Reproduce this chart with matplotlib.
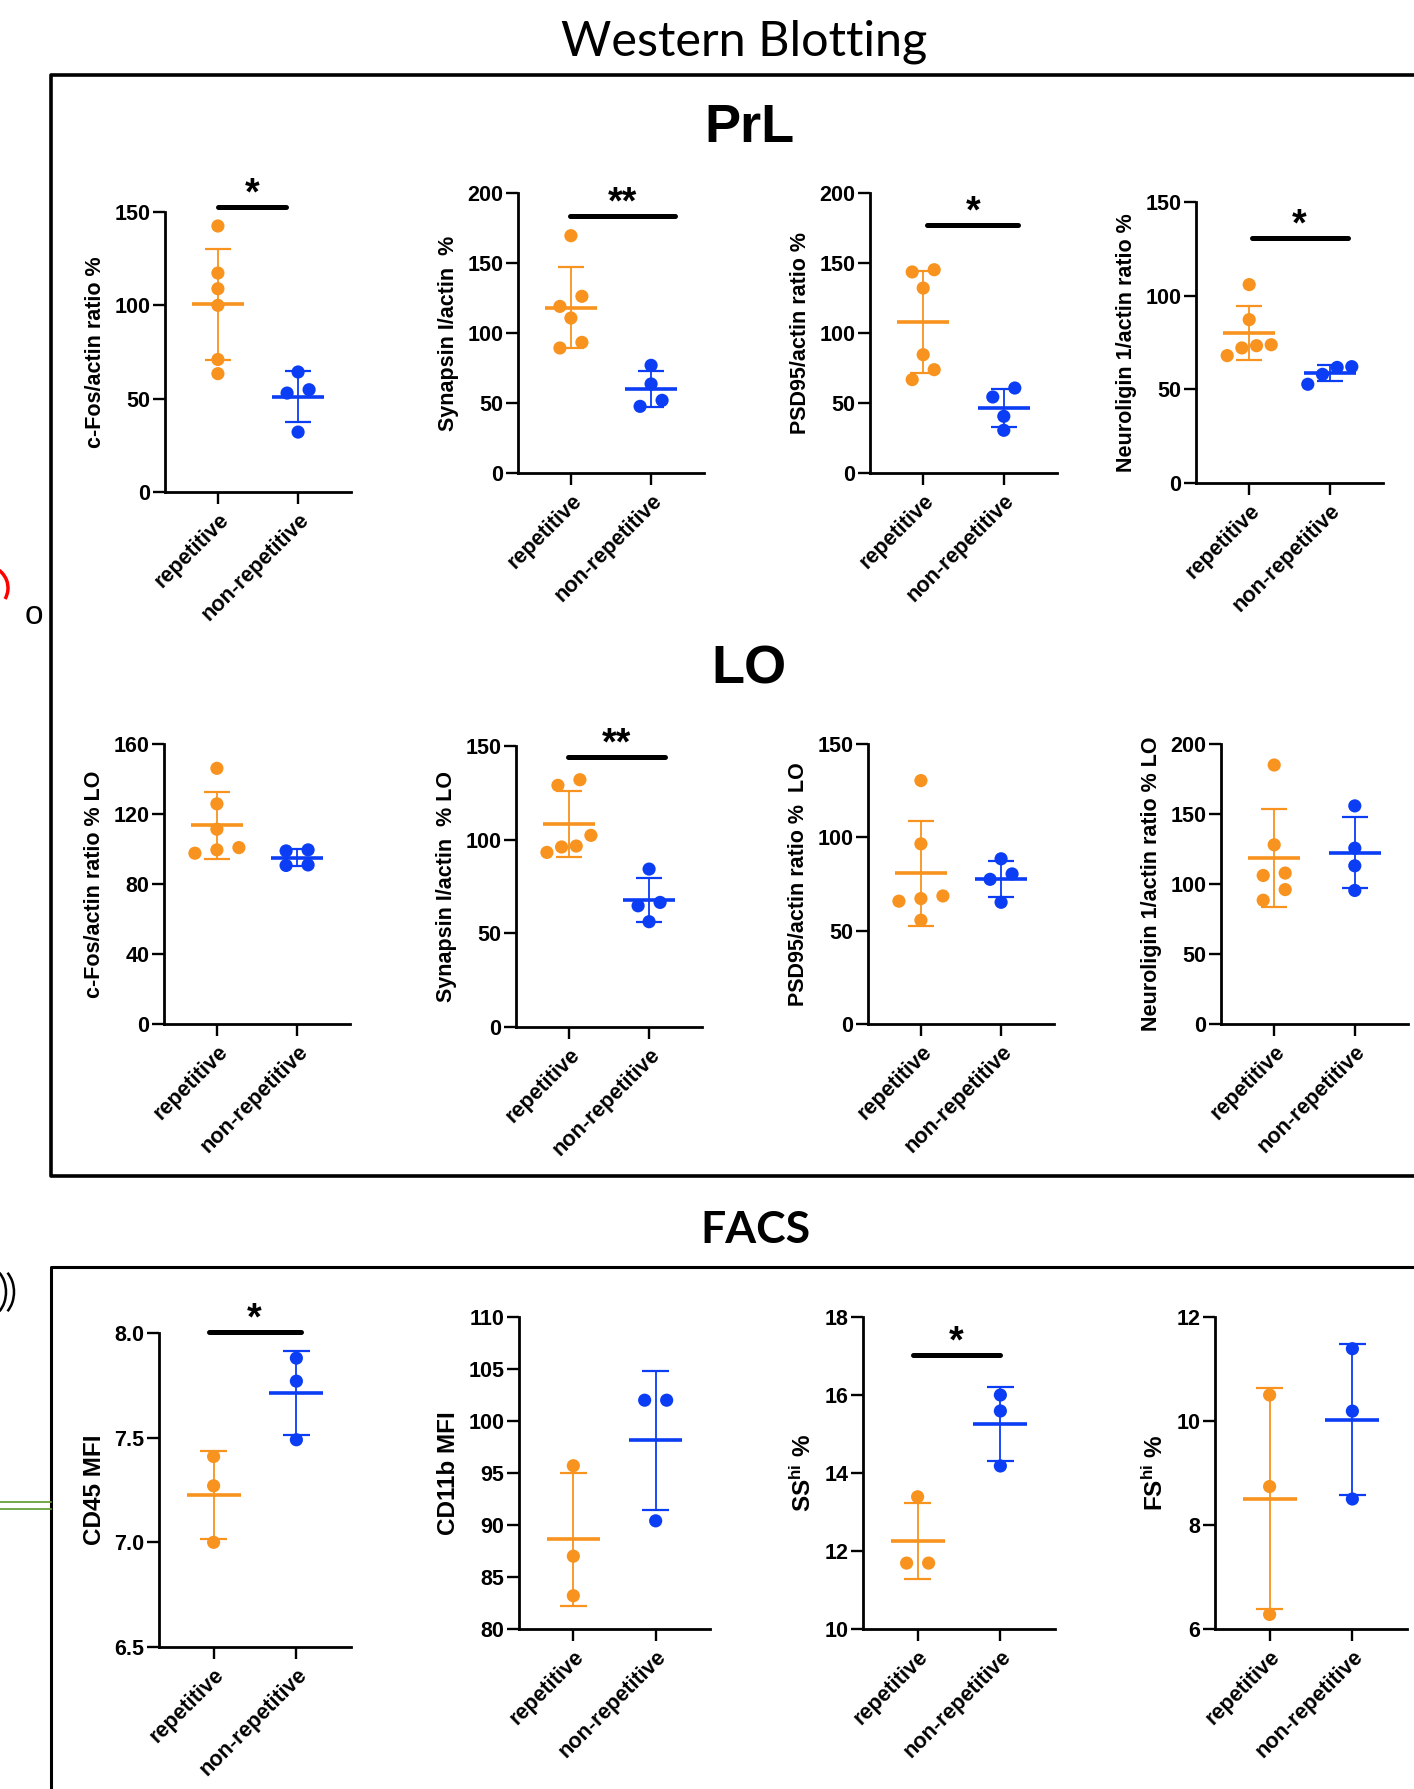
import numpy as np
import matplotlib
matplotlib.use('Agg')
import matplotlib.pyplot as plt
from matplotlib.patches import Arc

W, H = 1414, 1789
ORANGE = '#F7931E'
BLUE = '#0B3DF5'

groups = ['repetitive', 'non-repetitive']

# PrL western blot (% of actin)
prl_cfos_rep = [142.5, 117.3, 108.9, 100.0, 71.0, 63.4]
prl_cfos_non = [64.3, 54.8, 53.0, 32.1]
prl_syn_rep = [169.5, 126.2, 119.0, 110.7, 93.3, 89.3]
prl_syn_non = [76.9, 63.6, 51.9, 47.6]
prl_psd_rep = [145.2, 143.6, 132.1, 84.5, 73.8, 66.7]
prl_psd_non = [60.7, 54.3, 40.5, 30.5]
prl_nlg_rep = [105.9, 87.2, 73.8, 73.3, 72.1, 68.0]
prl_nlg_non = [62.1, 61.7, 58.0, 52.7]

# LO western blot
lo_cfos_rep = [146.1, 125.8, 111.3, 100.8, 99.5, 97.6]
lo_cfos_non = [99.5, 98.9, 90.9, 90.6]
lo_syn_rep = [132.0, 129.0, 102.3, 96.6, 96.1, 93.2]
lo_syn_non = [84.3, 66.5, 64.7, 56.2]
lo_psd_rep = [130.4, 96.5, 68.6, 67.2, 65.8, 55.6]
lo_psd_non = [88.5, 80.4, 77.5, 65.2]
lo_nlg_rep = [185.0, 128.0, 107.8, 106.1, 96.0, 88.4]
lo_nlg_non = [155.8, 125.6, 113.0, 95.4]

# FACS
cd45_rep = [7.41, 7.27, 7.00]
cd45_non = [7.88, 7.77, 7.49]
cd11b_rep = [95.7, 87.0, 83.2]
cd11b_non = [102.0, 102.0, 90.4]
ss_rep = [13.39, 11.69, 11.69]
ss_non = [16.00, 15.59, 14.18]
fs_rep = [10.50, 8.74, 6.28]
fs_non = [11.39, 10.19, 8.50]

plt.rcParams['font.family'] = ['Liberation Sans', 'DejaVu Sans']
plt.rcParams['font.weight'] = 'bold'
plt.rcParams['mathtext.default'] = 'regular'

fig = plt.figure(figsize=(W / 100, H / 100), dpi=100)

# overlay in pixel coordinates for frames and headings
ov = fig.add_axes([0, 0, 1, 1])
ov.set_xlim(0, W)
ov.set_ylim(H, 0)
ov.axis('off')

ov.text(744, 42, 'Western Blotting', ha='center', va='center', fontsize=35,
        family=['Lato', 'DejaVu Sans'], fontweight='normal')
ov.plot([W + 5, 51, 51, W + 5], [75, 75, 1176, 1176], color='k', lw=2.6)
ov.text(749, 128, 'PrL', ha='center', va='center', fontsize=39, fontweight='bold')
ov.text(749, 670, 'LO', ha='center', va='center', fontsize=39, fontweight='bold')
ov.text(755, 1230, 'FACS', ha='center', va='center', fontsize=32,
        family=['Lato', 'DejaVu Sans'], fontweight='bold')
ov.plot([W + 5, 51, 51], [1267, 1267, H + 5], color='k', lw=2.2)

# bits of the neighbouring slide at the left edge
ov.add_patch(Arc((-14, 588), 44, 44, theta1=-70, theta2=30, color='red', lw=2.5))
ov.text(34, 616, 'o', ha='center', va='center', fontsize=24, fontweight='normal')
ov.add_patch(Arc((-6, 1292), 40, 52, theta1=-55, theta2=55, color='k', lw=1.8))
ov.add_patch(Arc((-14, 1292), 40, 52, theta1=-55, theta2=55, color='k', lw=1.8))
ov.plot([0, 51], [1502, 1502], color='#5B9A2E', lw=1.2)
ov.plot([0, 51], [1509, 1509], color='#5B9A2E', lw=1.2)

panels = [
    dict(rep=prl_cfos_rep, non=prl_cfos_non, ylabel='c-Fos/actin ratio %',
         ylim=(0, 150), ticks=[0, 50, 100, 150], box=(165, 351, 212, 492),
         sig=(0.0, 0.85, 152.7, '*')),
    dict(rep=prl_syn_rep, non=prl_syn_non, ylabel='Synapsin I/actin  %',
         ylim=(0, 200), ticks=[0, 50, 100, 150, 200], box=(518, 704, 193, 473),
         sig=(-0.01, 1.3, 183.3, '**')),
    dict(rep=prl_psd_rep, non=prl_psd_non, ylabel='PSD95/actin ratio %',
         ylim=(0, 200), ticks=[0, 50, 100, 150, 200], box=(870, 1057, 193, 473),
         sig=(0.05, 1.18, 176.9, '*')),
    dict(rep=prl_nlg_rep, non=prl_nlg_non, ylabel='Neuroligin 1/actin ratio %',
         ylim=(0, 150), ticks=[0, 50, 100, 150], box=(1196, 1383, 202, 483),
         sig=(0.03, 1.22, 130.8, '*')),
    dict(rep=lo_cfos_rep, non=lo_cfos_non, ylabel='c-Fos/actin ratio % LO',
         ylim=(0, 160), ticks=[0, 40, 80, 120, 160], box=(164, 350, 744, 1024),
         sig=None),
    dict(rep=lo_syn_rep, non=lo_syn_non, ylabel='Synapsin I/actin  % LO',
         ylim=(0, 150), ticks=[0, 50, 100, 150], box=(516, 702, 746, 1027),
         sig=(-0.01, 1.2, 144.1, '**')),
    dict(rep=lo_psd_rep, non=lo_psd_non, ylabel='PSD95/actin ratio %  LO',
         ylim=(0, 150), ticks=[0, 50, 100, 150], box=(868, 1054, 744, 1024),
         sig=None),
    dict(rep=lo_nlg_rep, non=lo_nlg_non, ylabel='Neuroligin 1/actin ratio % LO',
         ylim=(0, 200), ticks=[0, 50, 100, 150, 200], box=(1221, 1408, 744, 1024),
         sig=None),
    dict(rep=cd45_rep, non=cd45_non, ylabel='CD45 MFI', ylsize=17.5,
         ylim=(6.5, 8.0), ticks=[6.5, 7.0, 7.5, 8.0], fmt='%.1f', box=(159, 351, 1333, 1647),
         sig=(-0.06, 1.05, 8.003, '*')),
    dict(rep=cd11b_rep, non=cd11b_non, ylabel='CD11b MFI', ylsize=17.5,
         ylim=(80, 110), ticks=[80, 85, 90, 95, 100, 105, 110], box=(519, 710, 1317, 1629),
         sig=None),
    dict(rep=ss_rep, non=ss_non, ylabel=r'SS$^{hi}$ %', ylsize=17.5,
         ylim=(10, 18), ticks=[10, 12, 14, 16, 18], box=(863, 1055, 1317, 1629),
         sig=(-0.06, 1.0, 17.02, '*')),
    dict(rep=fs_rep, non=fs_non, ylabel=r'FS$^{hi}$ %', ylsize=17.5,
         ylim=(6, 12), ticks=[6, 8, 10, 12], box=(1215, 1407, 1317, 1629),
         sig=None),
]


def swarm_offsets(ax, vals, diam=11.0):
    # GraphPad-like scatter: points that touch vertically are spread in a centred row
    tr = ax.transData
    ppu = tr.transform((1, 0))[0] - tr.transform((0, 0))[0]
    ypx = [tr.transform((0, v))[1] for v in vals]
    order = np.argsort(ypx)[::-1]
    rows = []
    for i in order:
        if rows and abs(ypx[rows[-1][-1]] - ypx[i]) < diam:
            rows[-1].append(i)
        else:
            rows.append([i])
    offs = np.zeros(len(vals))
    for row in rows:
        n = len(row)
        if n == 1:
            continue
        step = min(22.0, 44.0 / (n - 1))
        for j, k in enumerate(sorted(row, key=lambda k: vals[k])):
            offs[k] = (j - (n - 1) / 2) * step / ppu
    return offs


for p in panels:
    x0, x1, yt, yb = p['box']
    ax = fig.add_axes([x0 / W, 1 - yb / H, (x1 - x0) / W, (yb - yt) / H])
    ax.set_xlim(-0.66, 1.66)
    ax.set_ylim(*p['ylim'])
    ax.patch.set_alpha(0)
    for s in ['top', 'right']:
        ax.spines[s].set_visible(False)
    for s in ['left', 'bottom']:
        ax.spines[s].set_linewidth(2.0)
    ax.tick_params(length=8.5, width=1.7, pad=2)
    ax.tick_params(axis='x', pad=4)
    ax.set_yticks(p['ticks'])
    ylabs = [p['fmt'] % t for t in p['ticks']] if 'fmt' in p else [str(t) for t in p['ticks']]
    ax.set_yticklabels(ylabs, fontsize=15.5, fontweight='bold')
    ax.set_xticks([0, 1])
    ax.set_xticklabels(groups, rotation=45, ha='right', rotation_mode='anchor',
                       fontsize=15.5, fontweight='bold')
    ax.set_ylabel(p['ylabel'], fontsize=p.get('ylsize', 15.5), fontweight='bold',
                  labelpad=6)

    for gi, (vals, col) in enumerate([(p['rep'], ORANGE), (p['non'], BLUE)]):
        v = np.array(vals)
        m = v.mean()
        sd = v.std(ddof=1)
        ax.vlines(gi, m - sd, m + sd, color=col, lw=1.3, zorder=2)
        ax.hlines([m - sd, m + sd], gi - 0.165, gi + 0.165, color=col, lw=1.6, zorder=2)
        ax.hlines(m, gi - 0.325, gi + 0.325, color=col, lw=2.6, zorder=2)
        offs = swarm_offsets(ax, vals)
        ax.scatter(gi + offs, v, s=90, color=col, edgecolors='none', zorder=3,
                   clip_on=False)

    if p['sig'] is not None:
        sx0, sx1, sy, lab = p['sig']
        ax.plot([sx0, sx1], [sy, sy], color='k', lw=3.6, solid_capstyle='round',
                clip_on=False)
        ax.annotate(lab, xy=((sx0 + sx1) / 2, sy), xytext=(0, -4),
                    textcoords='offset points', ha='center', va='bottom',
                    fontsize=27, fontweight='bold', annotation_clip=False)

fig.savefig('out.png', dpi=100)
